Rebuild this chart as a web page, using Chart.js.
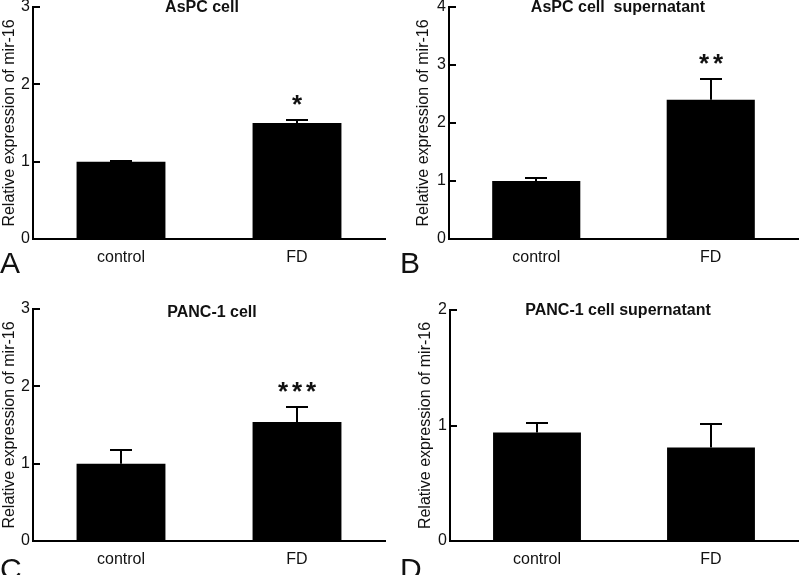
<!DOCTYPE html>
<html>
<head>
<meta charset="utf-8">
<script src="https://cdn.jsdelivr.net/npm/chart.js@4.4.1/dist/chart.umd.min.js"></script>
<style>
body { margin: 0; background: #fff; }
#wrap { position: relative; width: 800px; height: 575px; overflow: hidden; }
canvas { position: absolute; }
</style>
</head>
<body>
<div id="wrap">
<canvas id="chartA" width="400" height="287" style="left:0;top:0"></canvas>
<canvas id="chartB" width="400" height="287" style="left:400px;top:0"></canvas>
<canvas id="chartC" width="400" height="288" style="left:0;top:287px"></canvas>
<canvas id="chartD" width="400" height="288" style="left:400px;top:287px"></canvas>
</div>
<script>
// data (mean + upper error)
const groups = ['control', 'FD'];

const aspcCellMean = [1.00, 1.50];
const aspcCellErr = [0.01, 0.04];
const aspcCellStars = ['', '*'];

const aspcSupMean = [1.00, 2.40];
const aspcSupErr = [0.05, 0.36];
const aspcSupStars = ['', '**'];

const panc1CellMean = [1.00, 1.54];
const panc1CellErr = [0.18, 0.19];
const panc1CellStars = ['', '***'];

const panc1SupMean = [0.94, 0.81];
const panc1SupErr = [0.08, 0.20];
const panc1SupStars = ['', ''];

const yTitle = 'Relative expression of mir-16';
const font = "'Liberation Sans', Arial, sans-serif";

// draws inner tick marks, error bars, stars, title and panel letter
function makeExtras(p) {
    return {
        id: 'extras',
        afterDatasetsDraw(chart) {
            const ctx = chart.ctx;
            const x = chart.scales.x;
            const y = chart.scales.y;
            const area = chart.chartArea;
            ctx.save();
            ctx.strokeStyle = '#000';
            ctx.lineWidth = 2;
            y.ticks.forEach(t => {
                const py = Math.round(y.getPixelForValue(t.value));
                ctx.beginPath();
                ctx.moveTo(area.left, py);
                ctx.lineTo(area.left + 7, py);
                ctx.stroke();
            });
            p.mean.forEach((m, i) => {
                const px = Math.round(x.getPixelForValue(i));
                const base = y.getPixelForValue(m);
                const top = Math.round(y.getPixelForValue(m + p.err[i]));
                ctx.beginPath();
                ctx.moveTo(px, base);
                ctx.lineTo(px, top);
                ctx.moveTo(px - 11, top);
                ctx.lineTo(px + 11, top);
                ctx.stroke();
                if (p.stars[i]) {
                    ctx.fillStyle = '#111';
                    ctx.font = 'bold 26px ' + font;
                    ctx.textAlign = 'center';
                    ctx.textBaseline = 'alphabetic';
                    const n = p.stars[i].length;
                    for (let k = 0; k < n; k++) {
                        const sx = px + (k - (n - 1) / 2) * 14;
                        ctx.fillText('*', sx, top - 7);
                    }
                }
            });
            ctx.fillStyle = '#111';
            ctx.font = 'bold 16px ' + font;
            ctx.textAlign = 'center';
            ctx.textBaseline = 'middle';
            ctx.fillText(p.title, p.titleX, p.titleY);
            ctx.font = '30px ' + font;
            ctx.textAlign = 'left';
            ctx.textBaseline = 'alphabetic';
            ctx.fillText(p.letter, 0, p.letterY);
            ctx.restore();
        }
    };
}

function makeChart(id, p) {
    return new Chart(document.getElementById(id), {
        type: 'bar',
        data: {
            labels: groups,
            datasets: [{
                data: p.mean,
                backgroundColor: '#000',
                borderWidth: 0,
                barPercentage: 0.505,
                categoryPercentage: 1
            }]
        },
        options: {
            responsive: false,
            animation: false,
            layout: { padding: { left: 0, right: p.padRight, top: p.padTop, bottom: 0 } },
            plugins: { legend: { display: false }, tooltip: { enabled: false } },
            scales: {
                x: {
                    grid: { display: false, drawTicks: false },
                    border: { display: true, color: '#000', width: 2 },
                    ticks: { color: '#111', font: { family: font, size: 16 }, padding: 9 },
                    afterFit(scale) { scale.height = p.xHeight; }
                },
                y: {
                    min: 0,
                    max: p.yMax,
                    grid: { display: false, drawTicks: false },
                    border: { display: true, color: '#000', width: 2 },
                    ticks: { stepSize: 1, color: '#111', font: { family: font, size: 16 }, padding: 3 },
                    title: {
                        display: true,
                        text: yTitle,
                        color: '#111',
                        font: { family: font, size: 16 },
                        padding: { top: p.titlePad, bottom: 0 }
                    },
                    afterFit(scale) {
                        scale.width = p.yWidth;
                        scale.paddingTop = 0;
                        scale.paddingBottom = 0;
                    }
                }
            }
        },
        plugins: [makeExtras(p)]
    });
}

makeChart('chartA', {
    mean: aspcCellMean, err: aspcCellErr, stars: aspcCellStars, yMax: 3,
    title: 'AsPC cell', titleX: 202, titleY: 8, letter: 'A', letterY: 273,
    yWidth: 33, padRight: 15, padTop: 7, xHeight: 48, titlePad: 0
});
makeChart('chartB', {
    mean: aspcSupMean, err: aspcSupErr, stars: aspcSupStars, yMax: 4,
    title: 'AsPC cell  supernatant', titleX: 218, titleY: 8, letter: 'B', letterY: 273,
    yWidth: 49, padRight: 2, padTop: 7, xHeight: 48, titlePad: 14
});
makeChart('chartC', {
    mean: panc1CellMean, err: panc1CellErr, stars: panc1CellStars, yMax: 3,
    title: 'PANC-1 cell', titleX: 212, titleY: 26, letter: 'C', letterY: 292,
    yWidth: 33, padRight: 15, padTop: 22, xHeight: 34, titlePad: 0
});
makeChart('chartD', {
    mean: panc1SupMean, err: panc1SupErr, stars: panc1SupStars, yMax: 2,
    title: 'PANC-1 cell supernatant', titleX: 218, titleY: 24, letter: 'D', letterY: 292,
    yWidth: 50, padRight: 2, padTop: 23, xHeight: 34, titlePad: 16
});
</script>
</body>
</html>
